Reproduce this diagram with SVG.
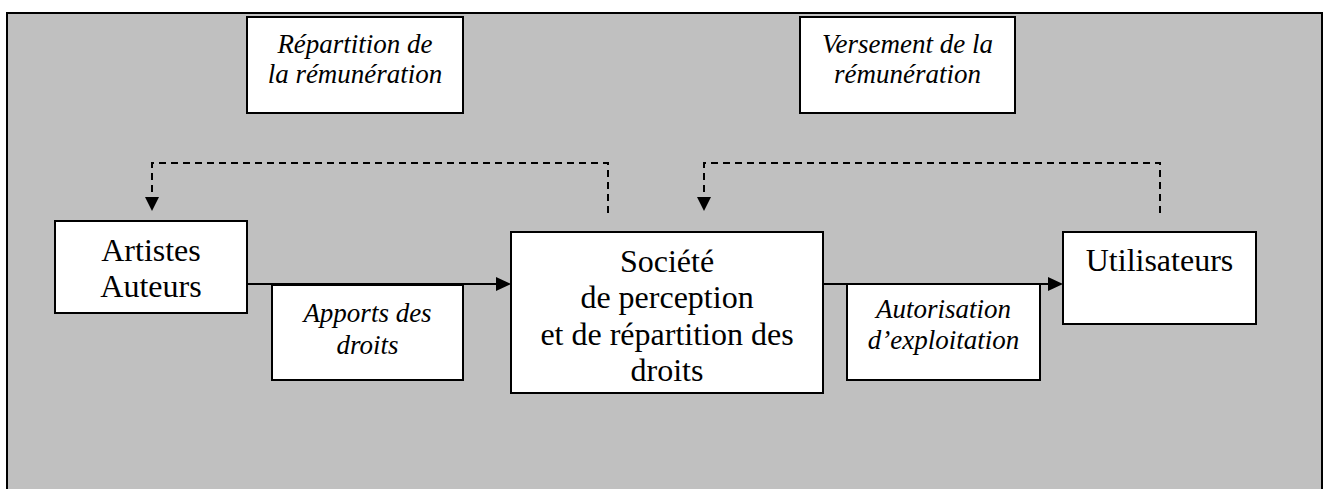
<svg xmlns="http://www.w3.org/2000/svg" width="1330" height="489" viewBox="0 0 1330 489">
<style>
.box{fill:#ffffff;stroke:#000000;stroke-width:2}
.t{font-family:"Liberation Serif","Times New Roman",serif;font-size:32px;fill:#000;text-anchor:middle}
.it{font-family:"Liberation Serif","Times New Roman",serif;font-style:italic;font-size:27px;fill:#000;text-anchor:middle}
.solid{fill:none;stroke:#000;stroke-width:2}
.dash{fill:none;stroke:#000;stroke-width:2;stroke-dasharray:7 5}
.head{fill:#000}
</style>
<rect x="7" y="13" width="1315" height="500" fill="#c0c0c0" stroke="#000" stroke-width="2"/>
<g id="connectors">
<path class="dash" d="M608,213 V163 H152 V198"/>
<polygon class="head" points="145,197 159,197 152,211"/>
<path class="dash" d="M1160,213 V163 H704 V198"/>
<polygon class="head" points="697,197 711,197 704,211"/>
<line class="solid" x1="247" y1="284" x2="498" y2="284"/>
<polygon class="head" points="496,277 511,284 496,291"/>
<line class="solid" x1="823" y1="284" x2="1050" y2="284"/>
<polygon class="head" points="1048,277 1063,284 1048,291"/>
</g>
<g id="repartition-remuneration">
<rect class="box" x="247" y="17" width="216" height="96"/>
<text class="it" x="355" y="53">Répartition de</text>
<text class="it" x="355" y="83">la rémunération</text>
</g>
<g id="versement-remuneration">
<rect class="box" x="800" y="17" width="215" height="96"/>
<text class="it" x="907.5" y="53">Versement de la</text>
<text class="it" x="907.5" y="83">rémunération</text>
</g>
<g id="artistes-auteurs">
<rect class="box" x="55" y="221" width="192" height="92"/>
<text class="t" x="151" y="261">Artistes</text>
<text class="t" x="151" y="297">Auteurs</text>
</g>
<g id="apports-droits">
<rect class="box" x="272" y="285" width="191" height="95"/>
<text class="it" x="367.5" y="322">Apports des</text>
<text class="it" x="367.5" y="354">droits</text>
</g>
<g id="societe">
<rect class="box" x="511" y="232" width="312" height="161"/>
<text class="t" x="667" y="272">Société</text>
<text class="t" x="667" y="308">de perception</text>
<text class="t" x="667" y="345">et de répartition des</text>
<text class="t" x="667" y="381">droits</text>
</g>
<g id="autorisation-exploitation">
<rect class="box" x="847" y="284" width="193" height="96"/>
<text class="it" x="943.5" y="318">Autorisation</text>
<text class="it" x="943.5" y="349">d’exploitation</text>
</g>
<g id="utilisateurs">
<rect class="box" x="1063" y="232" width="193" height="92"/>
<text class="t" x="1159.5" y="271">Utilisateurs</text>
</g>
</svg>
